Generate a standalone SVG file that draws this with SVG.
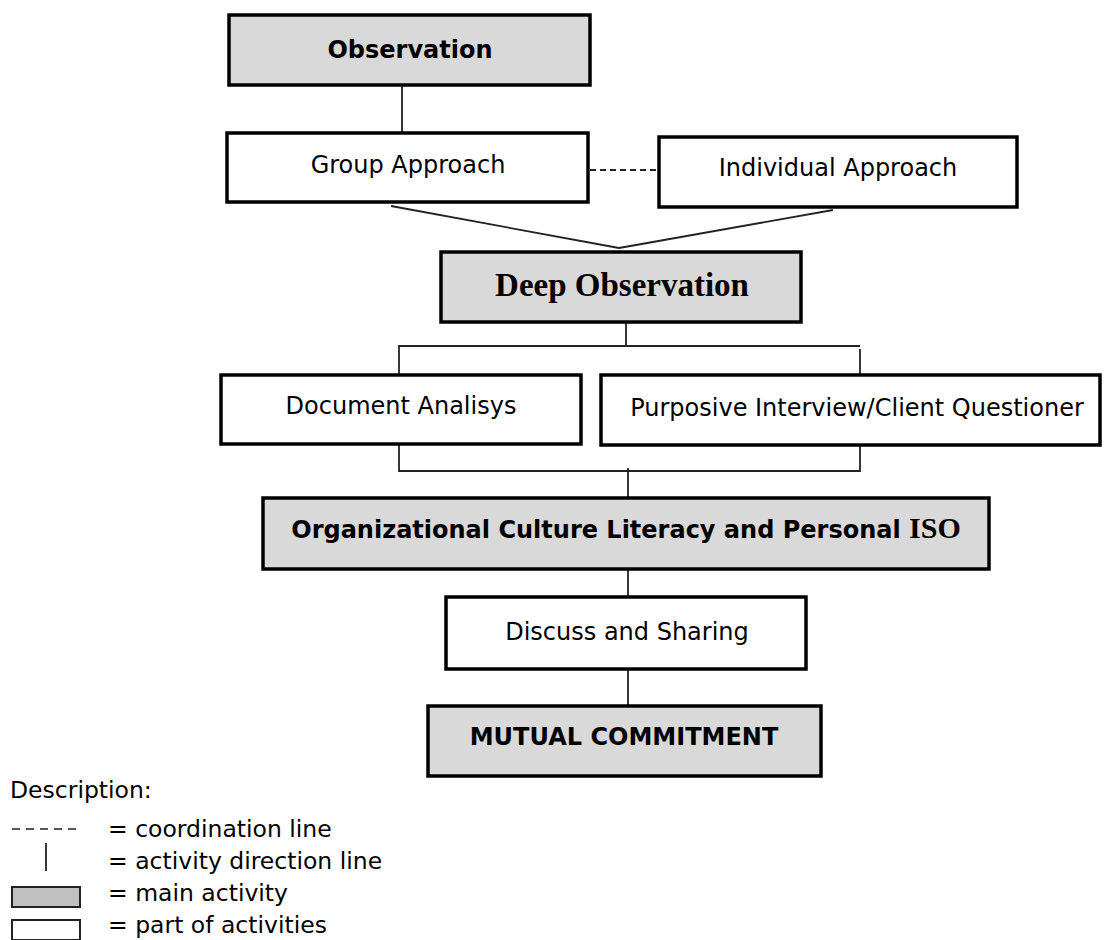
<svg xmlns="http://www.w3.org/2000/svg" width="1104" height="940" viewBox="0 0 1104 940">
<style>
.main{fill:#d9d9d9;stroke:#000;stroke-width:3.5}
.part{fill:#fff;stroke:#000;stroke-width:3.5}
.t{font-family:"DejaVu Sans","Verdana",sans-serif;font-size:24px;fill:#000;text-anchor:middle}
.b{font-weight:bold}
.serif{font-family:"Liberation Serif","Times New Roman",serif;font-weight:bold}
.ln{stroke:#222;stroke-width:1.8;fill:none}
.dash{stroke:#222;stroke-width:1.8;fill:none;stroke-dasharray:6 4}
.lg{font-family:"DejaVu Sans","Verdana",sans-serif;font-size:23.5px;fill:#000}
</style>
<rect width="1104" height="940" fill="#fff"/>
<g id="connectors">
<line class="ln" x1="402" y1="85" x2="402" y2="133"/>
<line class="dash" x1="590" y1="170" x2="657" y2="170"/>
<line class="ln" x1="391" y1="206" x2="619" y2="248"/>
<line class="ln" x1="833" y1="210" x2="619" y2="248"/>
<line class="ln" x1="626" y1="322" x2="626" y2="346"/>
<polyline class="ln" points="399,375 399,346 860,346"/>
<line class="ln" x1="860" y1="349" x2="860" y2="375"/>
<polyline class="ln" points="399,444 399,471 860,471 860,445"/>
<line class="ln" x1="628" y1="468" x2="628" y2="498"/>
<line class="ln" x1="628" y1="569" x2="628" y2="597"/>
<line class="ln" x1="628" y1="669" x2="628" y2="706"/>
</g>
<g id="observation"><rect class="main" x="229" y="15" width="361" height="70"/><text class="t b" x="410" y="58">Observation</text></g>
<g id="group-approach"><rect class="part" x="227" y="133" width="361" height="69"/><text class="t" x="408" y="173">Group Approach</text></g>
<g id="individual-approach"><rect class="part" x="659" y="137" width="358" height="70"/><text class="t" x="838" y="176">Individual Approach</text></g>
<g id="deep-observation"><rect class="main" x="441" y="252" width="360" height="70"/><text class="t serif" x="622" y="296" style="font-size:33px">Deep Observation</text></g>
<g id="document-analisys"><rect class="part" x="221" y="375" width="360" height="69"/><text class="t" x="401" y="414">Document Analisys</text></g>
<g id="purposive-interview"><rect class="part" x="601" y="375" width="499" height="70"/><text class="t" x="857" y="416">Purposive Interview/Client Questioner</text></g>
<g id="organizational-culture"><rect class="main" x="263" y="498" width="726" height="71"/><text class="t b" x="626" y="538">Organizational Culture Literacy and Personal <tspan class="serif" style="font-size:30px">ISO</tspan></text></g>
<g id="discuss-sharing"><rect class="part" x="446" y="597" width="360" height="72"/><text class="t" x="627" y="640">Discuss and Sharing</text></g>
<g id="mutual-commitment"><rect class="main" x="428" y="706" width="393" height="70"/><text class="t b" x="624" y="745">MUTUAL COMMITMENT</text></g>
<g id="legend">
<text class="lg" x="10" y="798">Description:</text>
<line x1="12" y1="829" x2="78" y2="829" stroke="#222" stroke-width="1.5" stroke-dasharray="8 6"/>
<text class="lg" x="108" y="837">= coordination line</text>
<line x1="46" y1="843" x2="46" y2="871" stroke="#222" stroke-width="1.8"/>
<text class="lg" x="108" y="869">= activity direction line</text>
<rect x="12" y="887" width="68" height="20" fill="#c0c0c0" stroke="#222" stroke-width="2"/>
<text class="lg" x="108" y="901">= main activity</text>
<rect x="12" y="920" width="68" height="20" fill="#fff" stroke="#222" stroke-width="2"/>
<text class="lg" x="108" y="933">= part of activities</text>
</g>
</svg>
